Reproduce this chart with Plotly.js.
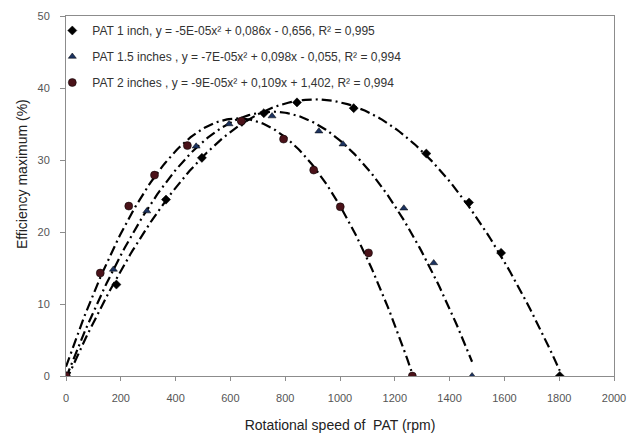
<!DOCTYPE html>
<html>
<head>
<meta charset="utf-8">
<script src="https://cdn.plot.ly/plotly-3.0.1.min.js"></script>
<style>html,body{margin:0;padding:0;background:#fff;}#chart{width:638px;height:435px;}</style>
</head>
<body>
<div id="chart"></div>
<script>
// Data
var speed1 = [0, 184, 365, 496, 642, 722, 843, 1050, 1315, 1471, 1588, 1802];
var eff1   = [0, 12.7, 24.5, 30.3, 35.3, 36.5, 38.0, 37.2, 30.9, 24.1, 17.1, 0];
var speed15 = [0, 173, 295, 475, 595, 752, 923, 1011, 1233, 1342, 1482];
var eff15   = [0, 14.8, 22.9, 31.9, 35.0, 36.1, 34.0, 32.2, 23.3, 15.7, 0];
var speed2 = [0, 125, 229, 323, 443, 640, 794, 904, 1001, 1104, 1264];
var eff2   = [0, 14.3, 23.6, 27.9, 32.0, 35.4, 32.9, 28.6, 23.5, 17.1, 0];

var names = [
  'PAT 1 inch, y = -5E-05x\u00b2 + 0,086x - 0,656, R\u00b2 = 0,995',
  'PAT 1.5 inches , y = -7E-05x\u00b2 + 0,098x - 0,055, R\u00b2 = 0,994',
  'PAT 2 inches , y = -9E-05x\u00b2 + 0,109x + 1,402, R\u00b2 = 0,994'
];
var colors = ['#000000', '#1c3360', '#4a1219'];
var symbols = ['diamond', 'triangle-up', 'circle'];
var sizes = [7, 7, 8];

// Least-squares quadratic trend line (as the spreadsheet trendline does)
function quadFit(xs, ys) {
  var n = xs.length, s = [0,0,0,0,0], t = [0,0,0];
  for (var i = 0; i < n; i++) {
    var p = 1;
    for (var k = 0; k < 5; k++) { s[k] += p; if (k < 3) t[k] += p * ys[i]; p *= xs[i]; }
  }
  var A = [[s[0], s[1], s[2], t[0]], [s[1], s[2], s[3], t[1]], [s[2], s[3], s[4], t[2]]];
  for (var c = 0; c < 3; c++) {
    for (var r = c + 1; r < 3; r++) {
      var f = A[r][c] / A[c][c];
      for (var q = c; q < 4; q++) A[r][q] -= f * A[c][q];
    }
  }
  var b = [0,0,0];
  for (var r2 = 2; r2 >= 0; r2--) {
    var v = A[r2][3];
    for (var q2 = r2 + 1; q2 < 3; q2++) v -= A[r2][q2] * b[q2];
    b[r2] = v / A[r2][r2];
  }
  return b;
}
function trend(xs, ys) {
  var b = quadFit(xs, ys), X = [], Y = [];
  var x0 = Math.min.apply(null, xs), x1 = Math.max.apply(null, xs);
  for (var x = x0; x <= x1 + 0.001; x += (x1 - x0) / 200) {
    X.push(x); Y.push(b[0] + b[1] * x + b[2] * x * x);
  }
  return {x: X, y: Y};
}

var sets = [[speed1, eff1], [speed15, eff15], [speed2, eff2]];
var traces = [];
sets.forEach(function (d, i) {
  var tr = trend(d[0], d[1]);
  traces.push({
    x: tr.x, y: tr.y, type: 'scatter', mode: 'lines', showlegend: false,
    hoverinfo: 'skip', line: {color: '#000', width: 2.2, dash: '10px,4px,2px,4px'}
  });
});
sets.forEach(function (d, i) {
  traces.push({
    x: d[0], y: d[1], type: 'scatter', mode: 'markers', name: names[i],
    legendgroup: 'g' + i,
    marker: {symbol: symbols[i], size: sizes[i], color: colors[i], line: {color: '#000', width: 0.5}}
  });
});

var layout = {
  width: 638, height: 435,
  margin: {l: 66, r: 24, t: 16, b: 59},
  paper_bgcolor: '#fff', plot_bgcolor: '#fff',
  font: {family: 'Liberation Sans, Arial, sans-serif', color: '#333'},
  showlegend: true,
  legend: {
    x: -0.025, y: 1.0, xanchor: 'left', yanchor: 'top',
    bgcolor: 'rgba(0,0,0,0)', font: {size: 12, color: '#333'},
    tracegroupgap: 7
  },
  xaxis: {
    range: [0, 2000], dtick: 200, tick0: 0, showgrid: false, zeroline: false,
    showline: true, linecolor: '#8c8c8c', linewidth: 1, mirror: true,
    ticks: 'outside', ticklen: 4, tickcolor: '#8c8c8c', ticklabelstandoff: 8,
    tickfont: {size: 11, color: '#555'},
    title: {text: 'Rotational speed of  PAT (rpm)', font: {size: 14, color: '#222'}, standoff: 16}
  },
  yaxis: {
    range: [0, 50], dtick: 10, tick0: 0, showgrid: false, zeroline: false,
    showline: true, linecolor: '#8c8c8c', linewidth: 1, mirror: true,
    ticks: 'outside', ticklen: 5, tickcolor: '#8c8c8c', ticklabelstandoff: 8,
    tickfont: {size: 11, color: '#555'}
  },
  annotations: [{
    text: 'Efficiency maximum (%)', textangle: -90, showarrow: false,
    xref: 'paper', yref: 'paper', x: -0.079, y: 0.56, xanchor: 'center', yanchor: 'middle',
    font: {size: 14, color: '#222'}
  }]
};

Plotly.newPlot('chart', traces, layout, {displayModeBar: false, staticPlot: true});
</script>
</body>
</html>
